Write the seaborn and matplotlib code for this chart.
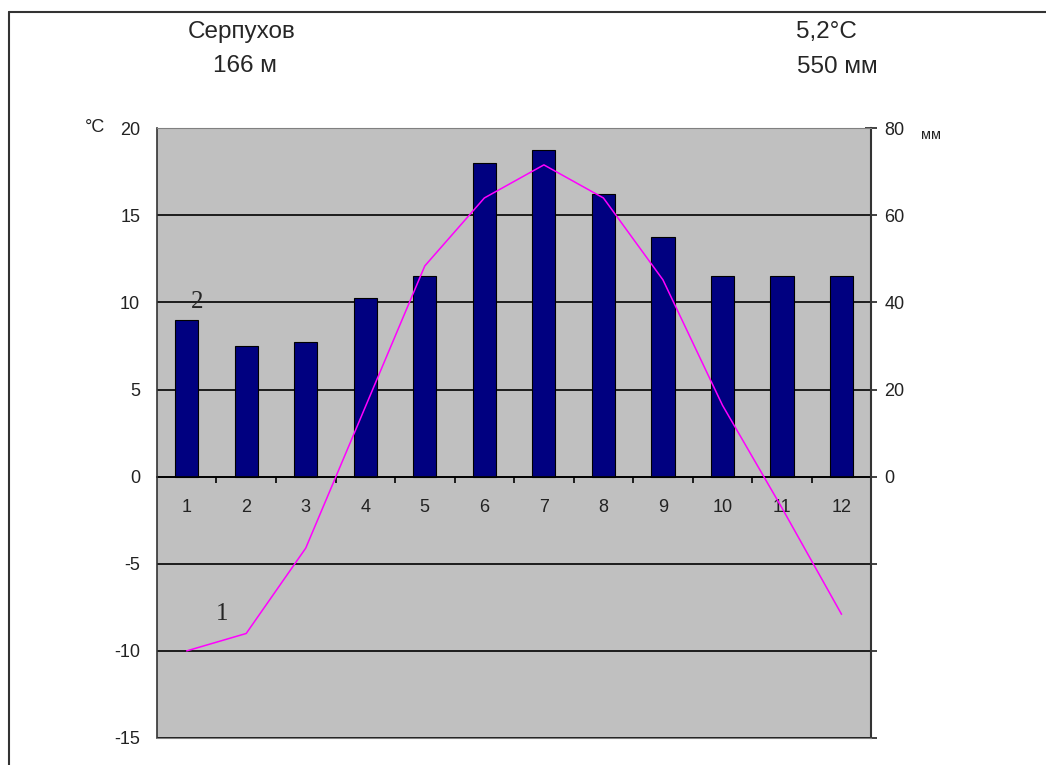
import matplotlib
matplotlib.use("Agg")
import matplotlib.pyplot as plt
import seaborn as sns
import numpy as np
from matplotlib.ticker import FixedLocator

# Climate data for Serpukhov
months = ["1", "2", "3", "4", "5", "6", "7", "8", "9", "10", "11", "12"]
precip_mm = [36, 30, 31, 41, 46, 72, 75, 65, 55, 46, 46, 46]
temp_c = [-10.0, -9.0, -4.1, 4.0, 12.1, 16.0, 17.9, 16.0, 11.3, 4.1, -1.8, -7.9]
temp_ticks = [-15, -10, -5, 0, 5, 10, 15, 20]
mm_ticks = [-60, -40, -20, 0, 20, 40, 60, 80]
mm_labels = ["", "", "", "0", "20", "40", "60", "80"]

sns.set_style("white")
plt.rcParams["font.family"] = ["Liberation Sans", "DejaVu Sans"]
plt.rcParams["axes.unicode_minus"] = False

fig = plt.figure(figsize=(10.46, 7.65), dpi=100)
ax = fig.add_axes([0.150, 0.0353, 0.683, 0.797])
ax.set_facecolor("#C0C0C0")

# precipitation bars (right axis, mm)
sns.barplot(x=months, y=precip_mm, ax=ax, color="#000080", width=0.39,
            edgecolor="black", linewidth=0.8, saturation=1)
ax.set_xlabel("")
ax.set_ylabel("")

# temperature line (left axis, degrees C)
ax2 = ax.twinx()
sns.pointplot(x=months, y=temp_c, ax=ax2, color="#FF00FF", marker="",
              linewidth=1.1, errorbar=None)

# mm axis on the right
ax.set_ylim(-60, 80)
ax.set_xlim(-0.5, 11.5)
ax.yaxis.tick_right()
ax.yaxis.set_major_locator(FixedLocator(mm_ticks))
ax.set_yticklabels(mm_labels)
ax.tick_params(axis="y", direction="inout", length=9, width=1.2, pad=5,
               labelsize=13, colors="#222222", right=True, left=False)
ax.grid(axis="y", color="black", linewidth=1.2)
ax.set_axisbelow(True)

# x axis sits on the zero line
ax.spines["bottom"].set_position(("data", 0))
ax.spines["bottom"].set_linewidth(1.2)
ax.spines["bottom"].set_color("black")
for s in ["top", "left", "right"]:
    ax.spines[s].set_visible(False)
ax.set_xticks(range(len(months)))
ax.set_xticklabels(months)
ax.set_xticks(np.arange(0.5, 11, 1), minor=True)
ax.tick_params(axis="x", which="major", length=0, pad=16, labelsize=13,
               colors="#222222")
ax.tick_params(axis="x", which="minor", direction="out", length=4.5,
               width=1.2, color="black", bottom=True)

# degrees axis on the left
ax2.set_xlim(-0.5, 11.5)
ax2.set_ylim(-15, 20)
ax2.yaxis.tick_left()
ax2.set_yticks(temp_ticks)
ax2.tick_params(axis="y", length=0, pad=12, labelsize=13, colors="#222222",
                right=False)
ax2.set_ylabel("")
ax2.spines["left"].set_color("#333333")
ax2.spines["left"].set_linewidth(1.2)
ax2.spines["right"].set_color("#333333")
ax2.spines["right"].set_linewidth(1.5)
ax2.spines["top"].set_color("#808080")
ax2.spines["bottom"].set_color("#808080")

# curve labels
ax2.text(0.18, 10.0, "2", family="Liberation Serif", fontsize=18,
         ha="center", va="center")
ax2.text(0.6, -7.9, "1", family="Liberation Serif", fontsize=18,
         ha="center", va="center")

# header texts
fig.text(242 / 1046, 1 - 32 / 765, "Серпухов", fontsize=17.5, ha="center", va="center")
fig.text(245 / 1046, 1 - 66 / 765, "166 м", fontsize=17.5, ha="center", va="center")
fig.text(826 / 1046, 1 - 32 / 765, "5,2°C", fontsize=17.5, ha="center", va="center")
fig.text(837 / 1046, 1 - 67 / 765, "550 мм", fontsize=17.5, ha="center", va="center")
fig.text(95 / 1046, 1 - 128 / 765, "°C", fontsize=13, ha="center", va="center",
         color="#222222")
fig.text(931 / 1046, 1 - 135 / 765, "мм", fontsize=10.5, ha="center", va="center",
         color="#222222")

# outer frame (top and left edges)
fig.add_artist(plt.Line2D([9 / 1046, 1], [1 - 12 / 765, 1 - 12 / 765],
                          transform=fig.transFigure, color="#333333", linewidth=1.5))
fig.add_artist(plt.Line2D([9 / 1046, 9 / 1046], [0, 1 - 12 / 765],
                          transform=fig.transFigure, color="#333333", linewidth=1.5))

fig.savefig("out.png", dpi=100, facecolor="white")
